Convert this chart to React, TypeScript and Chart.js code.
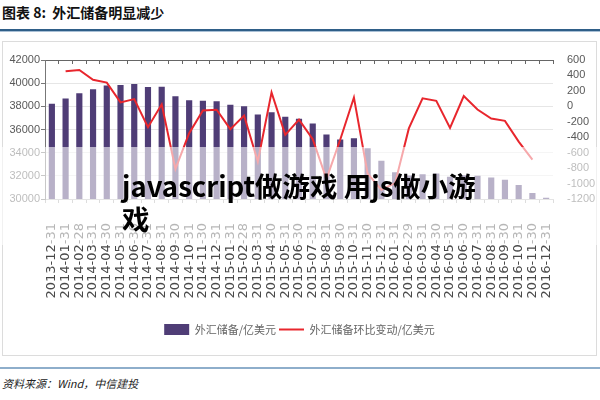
import React, { useEffect, useRef } from "react";
import { Chart, registerables } from "chart.js";

Chart.register(...registerables);

const categories = [
  "2013-12-31", "2014-01-31", "2014-02-28", "2014-03-31", "2014-04-30", "2014-05-31",
  "2014-06-30", "2014-07-31", "2014-08-31", "2014-09-30", "2014-10-31", "2014-11-30",
  "2014-12-31", "2015-01-31", "2015-02-28", "2015-03-31", "2015-04-30", "2015-05-31",
  "2015-06-30", "2015-07-31", "2015-08-31", "2015-09-30", "2015-10-31", "2015-11-30",
  "2015-12-31", "2016-01-31", "2016-02-29", "2016-03-31", "2016-04-30", "2016-05-31",
  "2016-06-30", "2016-07-31", "2016-08-31", "2016-09-30", "2016-10-31", "2016-11-30",
  "2016-12-31",
];

// 外汇储备/亿美元 (left axis)
const reserves = [
  38213, 38666, 39137, 39481, 39788, 39839,
  39932, 39662, 39688, 38877, 38529, 38474,
  38430, 38134, 38015, 37300, 37481, 37111,
  36938, 36513, 35574, 35141, 35255, 34383,
  33304, 32309, 32023, 32126, 32197, 31917,
  32052, 32011, 31851, 31664, 31206, 30516,
  30105,
];

// 外汇储备环比变动/亿美元 (right axis)
const changes: (number | null)[] = [
  null, 453, 471, 344, 307, 51,
  93, -270, 26, -811, -348, -55,
  -44, -296, -119, -715, 181, -370,
  -173, -425, -939, -433, 114, -872,
  -1079, -995, -286, 103, 71, -279,
  134, -41, -159, -188, -457, -691,
  null,
];

const leftAxis = { min: 30000, max: 42000, step: 2000 };
const rightAxis = { min: -1200, max: 600, step: 200 };

const seriesNames = ["外汇储备/亿美元", "外汇储备环比变动/亿美元"];
const titleText = "图表 8:  外汇储备明显减少";
const sourceText = "资料来源：Wind，中信建投";
const overlayLine1 = "javascript做游戏 用js做小游";
const overlayLine2 = "戏";

const PURPLE = "#4f3d76";
const RED = "#e8262d";

const plainNumber = (v: any) => String(v);

export default function App() {
  const canvasRef = useRef<HTMLCanvasElement | null>(null);

  useEffect(() => {
    if (!canvasRef.current) return;
    Chart.defaults.font.family = '"Liberation Sans", Arial, sans-serif';
    const chart = new Chart(canvasRef.current, {
      type: "bar",
      data: {
        labels: categories,
        datasets: [
          {
            type: "bar",
            label: seriesNames[0],
            data: reserves,
            backgroundColor: PURPLE,
            borderWidth: 0,
            barPercentage: 0.45,
            categoryPercentage: 1,
            yAxisID: "y",
            xAxisID: "x",
            order: 1,
          },
          {
            type: "line",
            label: seriesNames[1],
            data: changes,
            borderColor: RED,
            backgroundColor: RED,
            borderWidth: 2,
            pointRadius: 0,
            pointBorderWidth: 2,
            pointBorderColor: RED,
            tension: 0,
            yAxisID: "y2",
            xAxisID: "x",
            order: 0,
          } as any,
        ],
      },
      options: {
        animation: false,
        responsive: true,
        maintainAspectRatio: false,
        layout: { padding: { left: 0, right: 0, top: 0, bottom: 10 } },
        plugins: {
          tooltip: { enabled: false },
          legend: {
            position: "bottom",
            labels: {
              usePointStyle: true,
              pointStyleWidth: 25,
              boxHeight: 11,
              padding: 3,
              color: "#666",
              font: { size: 11, family: '"Noto Sans CJK SC", sans-serif' },
              sort: (a: any, b: any) => a.datasetIndex - b.datasetIndex,
              generateLabels: (c: any) => {
                const items = (Chart.defaults.plugins.legend.labels as any).generateLabels(c);
                return items.map((it: any) =>
                  it.datasetIndex === 0
                    ? { ...it, pointStyle: "rect", lineWidth: 0, fillStyle: PURPLE, strokeStyle: PURPLE }
                    : { ...it, pointStyle: "line", lineWidth: 2, strokeStyle: RED, fillStyle: RED }
                );
              },
            },
          },
        },
        scales: {
          x: {
            type: "category",
            position: "bottom",
            offset: true,
            grid: { offset: true, drawOnChartArea: false, drawTicks: true, tickLength: 4, tickColor: "#aaa" },
            border: { display: true, color: "#bbb" },
            ticks: {
              autoSkip: false,
              minRotation: 90,
              maxRotation: 90,
              padding: 20,
              color: "#4a4a4a",
              font: { family: '"DejaVu Sans", sans-serif', size: 13 },
            },
            afterFit: (s: any) => { s.height = 122; },
          },
          xTop: {
            type: "category",
            position: "top",
            labels: categories,
            offset: true,
            grid: { offset: true, drawOnChartArea: false, drawTicks: true, tickLength: -4, tickColor: "#666" },
            border: { display: true, color: "#666" },
            ticks: { display: false },
            afterFit: (s: any) => { s.height = 18; },
          },
          y: {
            position: "left",
            min: leftAxis.min,
            max: leftAxis.max,
            ticks: { stepSize: leftAxis.step, padding: 1, color: "#595959", font: { size: 11 }, callback: plainNumber, autoSkip: false },
            grid: { color: "#e6e6e6", tickColor: "#777", tickLength: 4, drawTicks: true },
            border: { display: true, color: "#777" },
            afterFit: (s: any) => { s.width = 42; },
          },
          y2: {
            position: "right",
            min: rightAxis.min,
            max: rightAxis.max,
            ticks: { stepSize: rightAxis.step, padding: 6, color: "#595959", font: { size: 11 }, callback: plainNumber, autoSkip: false },
            grid: { display: false },
            border: { display: false },
            afterFit: (s: any) => { s.width = 43; },
          },
        },
      } as any,
    });
    return () => chart.destroy();
  }, []);

  return (
    <div
      style={{
        position: "fixed",
        left: 0,
        top: 0,
        width: 600,
        height: 400,
        background: "#fff",
        overflow: "hidden",
        fontFamily: '"Noto Sans CJK SC", sans-serif',
      }}
    >
      <div
        style={{
          position: "absolute",
          left: 2,
          top: 5,
          fontSize: 14,
          lineHeight: "14px",
          fontWeight: 700,
          color: "#111",
          whiteSpace: "pre",
        }}
      >
        {titleText}
      </div>
      <div style={{ position: "absolute", left: 0, top: 29, width: 600, height: 2, background: "#2f5f88" }} />
      <div style={{ position: "absolute", left: 0, top: 31, width: 600, height: 1, background: "#a9c0d6" }} />

      <div
        style={{
          position: "absolute",
          left: 2,
          top: 41,
          width: 595,
          height: 315,
          boxSizing: "border-box",
          border: "1px solid #dcdcdc",
        }}
      >
        <div style={{ position: "relative", width: "100%", height: "100%" }}>
          <canvas ref={canvasRef} />
        </div>
      </div>

      <div
        style={{
          position: "absolute",
          left: 0,
          top: 147,
          width: 600,
          height: 98,
          background: "rgba(255,255,255,0.6)",
        }}
      />
      <div
        style={{
          position: "absolute",
          left: 122,
          top: 169,
          fontSize: 27.5,
          lineHeight: "33px",
          fontWeight: 700,
          color: "#000",
          whiteSpace: "nowrap",
        }}
      >
        {overlayLine1}
        <br />
        {overlayLine2}
      </div>

      <div style={{ position: "absolute", left: 0, top: 367, width: 600, height: 2, background: "#8eaecb" }} />
      <div
        style={{
          position: "absolute",
          left: 2,
          top: 378,
          fontSize: 11,
          lineHeight: "11px",
          fontStyle: "italic",
          color: "#222",
        }}
      >
        {sourceText}
      </div>
    </div>
  );
}
